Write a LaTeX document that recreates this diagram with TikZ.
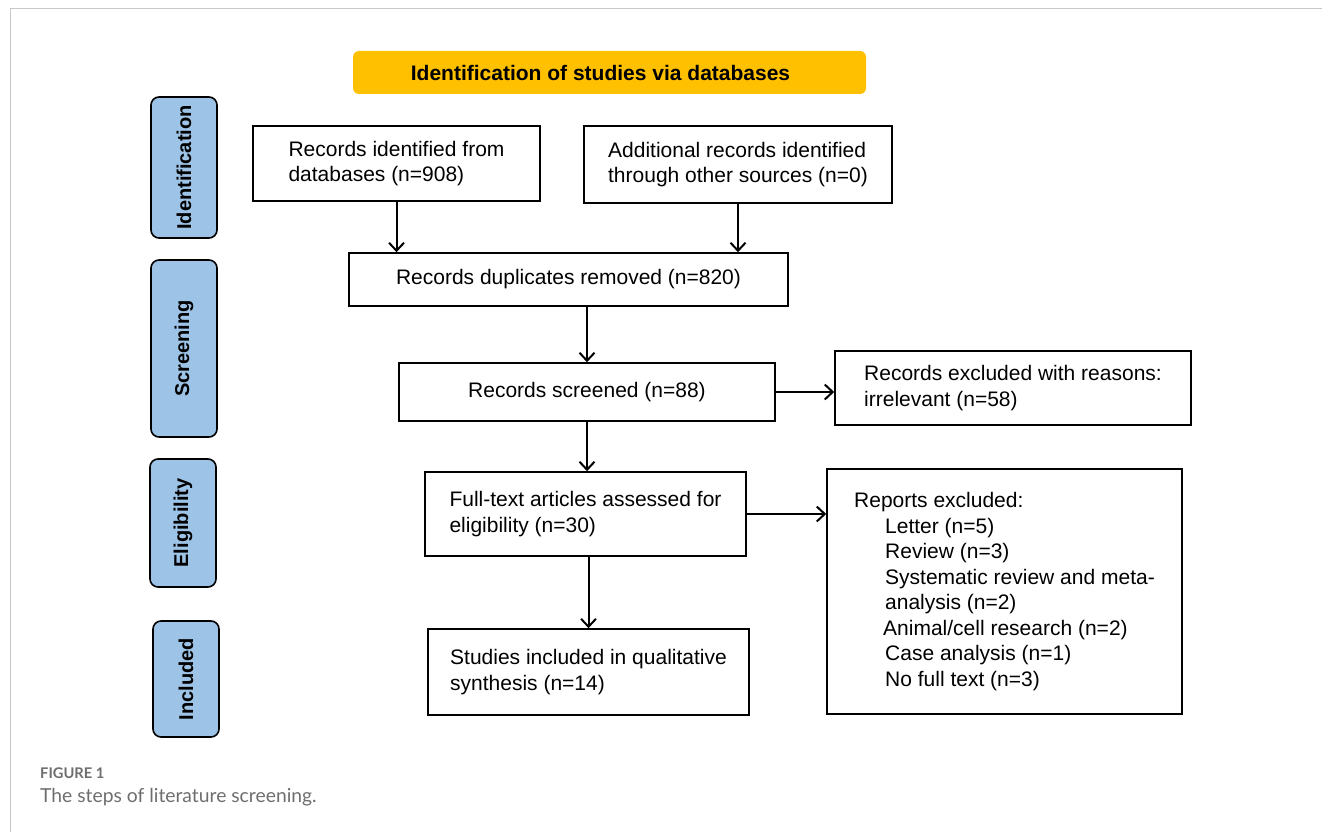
\documentclass[tikz,border=0pt]{standalone}
\usepackage{fontspec}
\setmainfont{Liberation Sans}
\newfontfamily\capfont{Lato}
\usepackage{xcolor}
\usepackage{tikz}
\usetikzlibrary{arrows.meta}
\definecolor{titlegold}{HTML}{FFC000}
\definecolor{phaseblue}{HTML}{9DC3E6}
\definecolor{capgray}{HTML}{6E6E6E}

\begin{document}
\begin{tikzpicture}[x=1pt, y=-1pt,
    box/.style={draw, line width=1.6pt, align=left, inner sep=0pt, font=\fontsize{21}{25.5}\selectfont},
    phase/.style={draw, line width=1.6pt, rounded corners=8pt, fill=phaseblue, rotate=90, inner sep=0pt, font=\fontsize{20}{24}\selectfont\bfseries},
    flow/.style={-{Straight Barb[length=8pt, width=15pt]}, line width=2pt}]
    \useasboundingbox (0,0) rectangle (1322,832);

    % Cornice
    \draw[black!22, line width=1pt] (10,832) -- (10,9) -- (1322,9);

    % Titolo
    \node[fill=titlegold, rounded corners=6pt, minimum width=513pt, minimum height=43pt,
          font=\fontsize{21}{25}\selectfont\bfseries] (title) at (609.5,72.5) {Identification of studies via databases\hspace*{18pt}};

    % Fasi
    \node[phase, minimum width=141pt, minimum height=66pt] (idn) at (184,167.5) {Identification};
    \node[phase, minimum width=177pt, minimum height=66pt] (scr) at (184,348.5) {Screening};
    \node[phase, minimum width=128pt, minimum height=66pt] (elg) at (183,523) {Eligibility};
    \node[phase, minimum width=116pt, minimum height=66pt] (inc) at (186,679) {Included};

    % Riquadri
    \node[box, minimum width=287pt, minimum height=75pt] (db) at (396.5,163.5) {Records identified from\\databases (n=908)};
    \node[box, minimum width=308pt, minimum height=77pt] (add) at (738,164.5) {Additional records identified\\through other sources (n=0)};
    \node[box, minimum width=439pt, minimum height=53pt] (dup) at (568.5,279.5) {Records duplicates removed (n=820)};
    \node[box, minimum width=376pt, minimum height=58pt] (scrd) at (587,392) {Records screened (n=88)};
    \node[box, minimum width=356pt, minimum height=74pt] (excl) at (1013,388) {Records excluded with reasons:\\irrelevant (n=58)};
    \node[box, minimum width=321pt, minimum height=84pt] (full) at (585.5,514) {Full-text articles assessed for\\eligibility (n=30)};
    \node[box, minimum width=355pt, minimum height=245pt] (rep) at (1004.5,591.5) {Reports excluded:\\
        \hspace*{31pt}Letter (n=5)\\
        \hspace*{31pt}Review (n=3)\\
        \hspace*{31pt}Systematic review and meta-\\
        \hspace*{31pt}analysis (n=2)\\
        \hspace*{29pt}Animal/cell research (n=2)\\
        \hspace*{31pt}Case analysis (n=1)\\
        \hspace*{31pt}No full text (n=3)};
    \node[box, minimum width=321pt, minimum height=86pt] (stud) at (588.5,672) {Studies included in qualitative\\synthesis (n=14)};

    % Frecce
    \draw[flow] (db.south) -- (db.south |- dup.north);
    \draw[flow] (add.south) -- (add.south |- dup.north);
    \draw[flow] (scrd.north |- dup.south) -- (scrd.north);
    \draw[flow] (scrd.east) -- (scrd.east -| excl.west);
    \draw[flow] (scrd.south) -- (scrd.south |- full.north);
    \draw[flow] (full.east) -- (full.east -| rep.west);
    \draw[flow] (stud.north |- full.south) -- (stud.north);

    % Didascalia
    \node[anchor=west, inner sep=0pt, text=capgray, font=\capfont\bfseries\fontsize{14.7}{17}\selectfont] (fig) at (40,773) {FIGURE 1};
    \node[anchor=west, inner sep=0pt, text=capgray, font=\capfont\fontsize{19.3}{22}\selectfont] (cap) at (40,797) {The steps of literature screening.};
\end{tikzpicture}
\end{document}
